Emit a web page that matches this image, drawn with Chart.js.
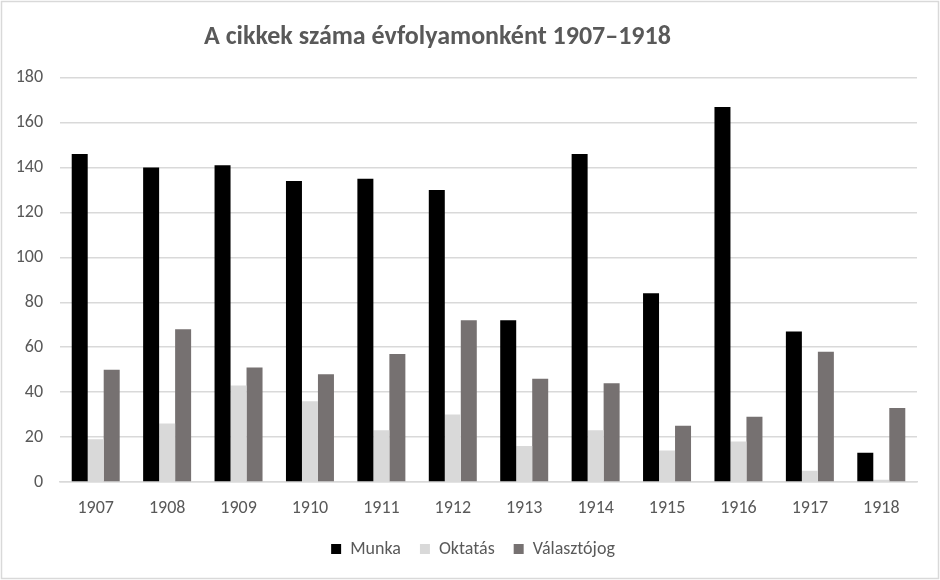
<!DOCTYPE html>
<html>
<head>
<meta charset="utf-8">
<script src="https://cdn.jsdelivr.net/npm/chart.js@4/dist/chart.umd.min.js"></script>
<style>
  html, body { margin: 0; padding: 0; background: #fff; }
  #wrap { width: 940px; height: 580px; position: relative; }
</style>
</head>
<body>
<div id="wrap"><canvas id="c"></canvas></div>
<script>
const years = ['1907', '1908', '1909', '1910', '1911', '1912', '1913', '1914', '1915', '1916', '1917', '1918']
const munka = [146, 140, 141, 134, 135, 130, 72, 146, 84, 167, 67, 13]
const oktatas = [19, 26, 43, 36, 23, 30, 16, 23, 14, 18, 5, 1]
const valasztojog = [50, 68, 51, 48, 57, 72, 46, 44, 25, 29, 58, 33]

const font = 'Carlito, Lato, "Liberation Sans", sans-serif'
const textColor = '#595959'

// white background + thin grey frame like the office export
const frame = {
  id: 'frame',
  beforeDraw(chart) {
    const { ctx, width, height } = chart
    ctx.save()
    ctx.fillStyle = '#fff'
    ctx.fillRect(0, 0, width, height)
    ctx.strokeStyle = '#d9d9d9'
    ctx.lineWidth = 1.5
    ctx.strokeRect(1.5, 1.5, width - 3, height - 3)
    ctx.restore()
  }
}

// the original has its title a bit left of centre and the legend a bit right
const nudge = {
  id: 'nudge',
  afterLayout(chart) {
    if (chart.titleBlock) {
      chart.titleBlock.left = -42
      chart.titleBlock.right = 917
    }
    if (chart.legend) {
      chart.legend.left = 0
      chart.legend.right = 946
    }
  }
}

const series = [
  { label: 'Munka', data: munka, backgroundColor: '#000000' },
  { label: 'Oktatás', data: oktatas, backgroundColor: '#d9d9d9' },
  { label: 'Választójog', data: valasztojog, backgroundColor: '#767171' }
]

new Chart(document.getElementById('c'), {
  type: 'bar',
  data: {
    labels: years,
    datasets: series.map(s => ({
      ...s,
      categoryPercentage: 0.672,
      barPercentage: 1
    }))
  },
  options: {
    responsive: true,
    maintainAspectRatio: false,
    animation: false,
    devicePixelRatio: 1,
    layout: { padding: { left: 0, right: 23, top: 0, bottom: 12 } },
    plugins: {
      title: {
        display: true,
        text: 'A cikkek száma évfolyamonként 1907–1918',
        color: textColor,
        font: { family: font, size: 26, weight: 'bold' },
        padding: { top: 22, bottom: 24.5 }
      },
      legend: {
        position: 'bottom',
        labels: {
          color: textColor,
          font: { family: font, size: 18 },
          boxWidth: 10,
          boxHeight: 10,
          padding: 19
        }
      },
      tooltip: { enabled: false }
    },
    scales: {
      x: {
        grid: { display: false, drawTicks: false },
        border: { display: true, color: '#d9d9d9', width: 1.5 },
        ticks: { color: textColor, font: { family: font, size: 18 }, padding: 16 },
        afterFit: scale => { scale.height = 39 }
      },
      y: {
        min: 0,
        max: 180,
        ticks: { stepSize: 20, color: textColor, font: { family: font, size: 18 }, padding: 17 },
        grid: { color: '#d9d9d9', lineWidth: 1.5, drawTicks: false },
        border: { display: false },
        afterFit: scale => { scale.width = 60 }
      }
    }
  },
  plugins: [frame, nudge]
})
</script>
</body>
</html>
